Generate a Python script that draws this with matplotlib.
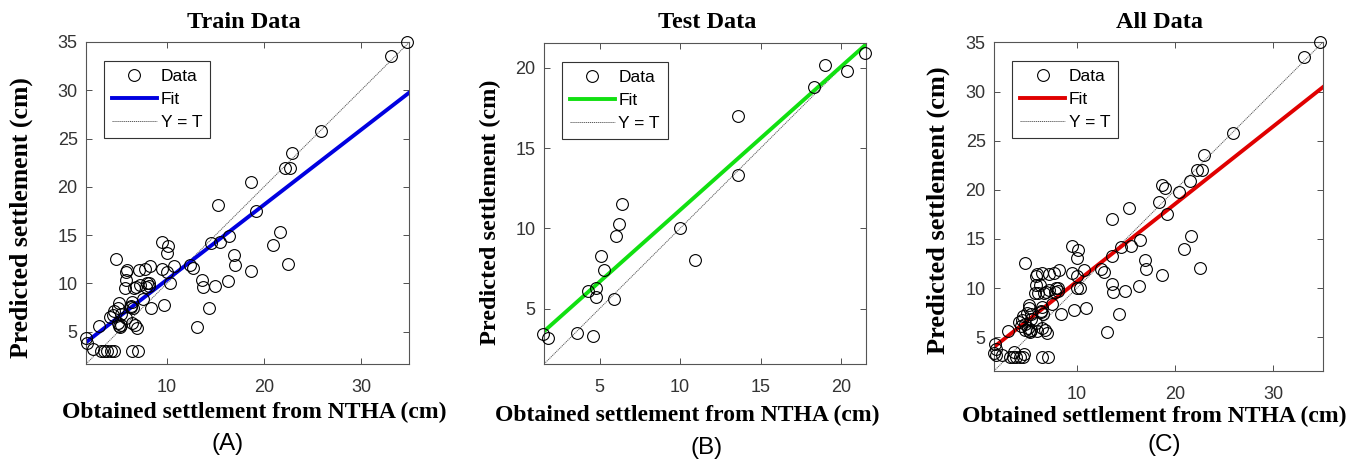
import numpy as np
import matplotlib
matplotlib.use('Agg')
import matplotlib.pyplot as plt

# Train set: obtained (NTHA) vs predicted settlement, cm
train_t = [34.7, 33.1, 25.9, 22.9, 22.7, 22.2, 18.7, 19.2, 15.3, 16.4, 15.5, 14.5, 21.6, 20.9,
           22.5, 16.9, 17.0, 18.7, 12.4, 12.7, 13.6, 13.7, 14.9, 16.3, 14.3, 13.1, 9.5, 10.1,
           10.0, 10.7, 9.5, 10.0, 10.3, 9.7, 8.4, 8.2, 7.7, 7.1, 7.9, 7.8, 7.2, 6.8, 6.6, 7.5,
           6.4, 6.3, 6.5, 5.9, 5.8, 5.8, 5.7, 4.7, 5.1, 4.9, 4.5, 4.4, 5.3, 5.0, 5.1, 5.3, 6.4,
           6.7, 6.9, 4.1, 3.0, 5.8, 6.4, 7.0, 3.2, 3.5, 3.8, 4.2, 4.5, 2.4, 1.65, 1.8, 8.1, 8.1,
           6.3, 5.2]
train_y = [35.0, 33.5, 25.8, 23.5, 22.0, 22.0, 20.5, 17.5, 18.1, 14.9, 14.3, 14.2, 15.3, 14.0,
           12.0, 12.9, 11.9, 11.3, 11.9, 11.6, 10.4, 9.6, 9.7, 10.2, 7.4, 5.5, 14.3, 13.9,
           13.1, 11.8, 11.5, 11.2, 10.0, 7.8, 7.4, 11.8, 11.5, 11.4, 10.0, 9.6, 9.8, 9.6, 9.5, 8.4,
           8.1, 7.7, 7.4, 11.4, 11.2, 10.3, 9.5, 12.5, 8.0, 7.5, 7.1, 6.7, 6.8, 5.9, 5.6, 5.7, 5.9,
           5.7, 5.4, 6.5, 5.6, 6.4, 3.0, 3.0, 3.0, 3.0, 3.0, 3.0, 3.0, 3.2, 4.3, 3.8, 9.7, 10.0,
           7.6, 5.5]

# Test set
test_t = [21.5, 20.4, 19.0, 18.3, 13.6, 13.6, 10.0, 10.9, 6.4, 6.2, 6.0, 5.1, 5.3, 4.3,
          4.75, 4.75, 5.9, 4.6, 3.6, 1.5, 1.8]
test_y = [20.9, 19.8, 20.2, 18.8, 17.0, 13.3, 10.0, 8.0, 11.5, 10.3, 9.5, 8.3, 7.4, 6.1,
          6.3, 5.7, 5.6, 3.3, 3.5, 3.4, 3.2]

# fitted lines (slope, intercept)
fit_train = [0.776, 2.62]
fit_test = [0.894, 2.20]
fit_all = [0.790, 2.77]

W, H = 1365, 462
fig = plt.figure(figsize=(W / 100, H / 100), dpi=100)

SERIF = ['Liberation Serif', 'DejaVu Serif']
SANS = ['Liberation Sans', 'DejaVu Sans']


def px_axes(left, right, top, bottom):
    return fig.add_axes([left / W, 1 - bottom / H, (right - left) / W, (bottom - top) / H])


def panel(ax, t, y, fit, color, lim, xticks, yticks):
    xs = np.array(lim)
    ax.plot(xs, xs, linestyle=(0, (1.2, 0.8)), color='0.35', lw=0.7, label='Y = T')
    ax.plot(xs, fit[0] * xs + fit[1], color=color, lw=2.8, label='Fit')
    ax.plot(t, y, 'o', mfc='none', mec='black', ms=8.5, mew=0.8, label='Data',
            clip_on=False, zorder=3)
    ax.set_xlim(lim)
    ax.set_ylim(lim)
    ax.set_xticks(xticks)
    ax.set_yticks(yticks)
    ax.tick_params(direction='in', top=True, right=True, length=4, width=0.6,
                   colors='#333333', labelsize=13)
    ax.tick_params(axis='x', pad=11)
    ax.tick_params(axis='y', pad=6)
    for lab in ax.get_xticklabels() + ax.get_yticklabels():
        lab.set_family(SANS)
    for s in ax.spines.values():
        s.set_color('#555555')
        s.set_linewidth(0.8)
    h, l = ax.get_legend_handles_labels()
    leg = ax.legend(h[::-1], l[::-1], loc='upper left', bbox_to_anchor=(0.056, 0.941),
                    borderaxespad=0, fancybox=False, edgecolor='#333333', framealpha=1,
                    prop={'family': SANS, 'size': 12.5}, handlelength=2.6,
                    handletextpad=0.2, labelspacing=0.45, borderpad=0.45)
    leg.get_frame().set_linewidth(0.8)


ax_a = px_axes(86, 409, 42, 364)
panel(ax_a, train_t, train_y, fit_train, '#0000e0', (1.65, 34.95), [10, 20, 30],
      [5, 10, 15, 20, 25, 30, 35])

ax_b = px_axes(544, 866, 43, 364)
panel(ax_b, test_t, test_y, fit_test, '#11e011', (1.55, 21.55), [5, 10, 15, 20],
      [5, 10, 15, 20])

ax_c = px_axes(994, 1323, 42, 371)
panel(ax_c, train_t + test_t, train_y + test_y, fit_all, '#e00000', (1.55, 35.05),
      [10, 20, 30], [5, 10, 15, 20, 25, 30, 35])


def ftext(x, y, s, **kw):
    fig.text(x / W, 1 - y / H, s, ha='center', va='center', **kw)


titles = ['Train Data', 'Test Data', 'All Data']
title_x = [244, 707, 1160]
xlab_pos = [(254, 412), (687, 415), (1154, 416)]
ylab_pos = [(21, 218), (490, 212), (938, 210)]
ylab_size = [18.5, 17.5, 19]
tags = ['(A)', '(B)', '(C)']
tag_pos = [(228, 444), (707, 448), (1164, 445)]

for i in range(3):
    ftext(title_x[i], 23, titles[i], family=SERIF, weight='bold', fontsize=17.5)
    ftext(*xlab_pos[i], 'Obtained settlement from NTHA (cm)', family=SERIF,
          weight='bold', fontsize=17)
    ftext(*ylab_pos[i], 'Predicted settlement (cm)', family=SERIF, weight='bold',
          fontsize=ylab_size[i], rotation=90)
    ftext(*tag_pos[i], tags[i], family=SANS, fontsize=17.5)

fig.savefig('out.png', dpi=100)
